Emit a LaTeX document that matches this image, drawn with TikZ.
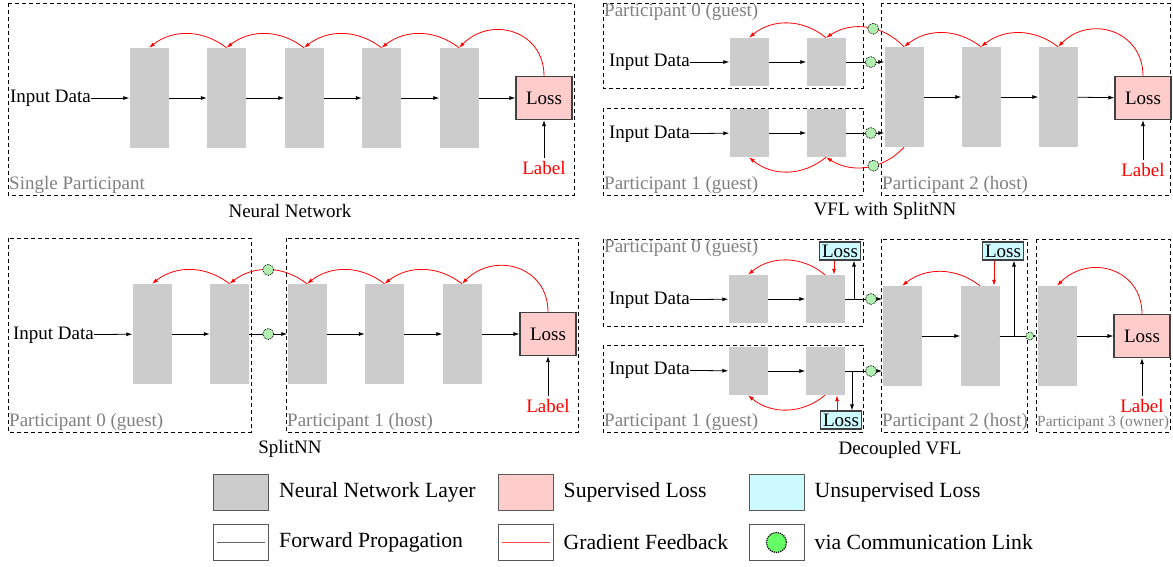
\documentclass[tikz,border=0pt]{standalone}
\usepackage{fontspec}
\setmainfont{Liberation Serif}
\usetikzlibrary{arrows.meta,positioning}
\definecolor{layergray}{RGB}{204,204,204}
\definecolor{suppink}{RGB}{255,204,204}
\definecolor{unsupcyan}{RGB}{204,250,255}
\definecolor{linkgreen}{RGB}{178,240,178}
\definecolor{keygreen}{RGB}{102,255,102}
\tikzset{
  nnlayer/.style={fill=layergray, minimum width=39pt, minimum height=100pt, inner sep=0pt},
  guestlayer/.style={nnlayer, minimum height=48pt},
  suploss/.style={draw=black!75, line width=1.1pt, fill=suppink, minimum width=56pt, minimum height=43pt, inner sep=0pt},
  unsuploss/.style={draw=black!75, line width=1.1pt, fill=unsupcyan, minimum width=41pt, minimum height=18pt, inner sep=0pt},
  party/.style={draw, line width=0.9pt, dash pattern=on 4pt off 3pt},
  partyname/.style={text=gray, anchor=west, inner sep=1pt},
  indata/.style={anchor=east, inner sep=0pt},
  fwd/.style={-{Latex[length=6pt,width=4pt]}, line width=0.8pt},
  grad/.style={-{Latex[length=6pt,width=4pt]}, red, line width=0.8pt},
  commlink/.style={circle, draw=black, densely dotted, line width=0.8pt, fill=linkgreen, minimum size=11pt, inner sep=0pt},
  smalllink/.style={commlink, minimum size=8pt},
  keybox/.style={draw=black!65, line width=1pt, minimum width=55pt, minimum height=36pt, inner sep=0pt},
  keytext/.style={right=10pt of #1, inner sep=0pt, font=\fontsize{21.7}{26}\selectfont},
}
\begin{document}
\begin{tikzpicture}[x=1pt,y=1pt,font=\fontsize{19}{22}\selectfont]
\useasboundingbox (0,0) rectangle (1173,-567);

% Un solo participante
\draw[party] (8,-3) rectangle (574,-195);
\node[partyname] (pa) at (8,-185) {Single Participant};
\node[indata] (ina) at (91,-98) {Input Data};
\foreach \i in {1,...,5}
  \node[nnlayer] (a\i) at ({149+77.5*(\i-1)},-98) {};
\node[suploss] (lossa) at (544,-98) {Loss};
\node[red] (laba) at (544,-168) {Label};
\draw[fwd] (ina) -- (a1);
\foreach \i/\j in {1/2,2/3,3/4,4/5}
  \draw[fwd] (a\i) -- (a\j);
\draw[fwd] (a5) -- (lossa);
\draw[fwd] (laba) -- (lossa);
\foreach \i/\j in {2/1,3/2,4/3,5/4}
  \draw[grad] (a\i.north) to[bend right=38] (a\j.north);
\draw[grad] (lossa.north) to[out=90,in=45,looseness=1.3] (a5.north);
\node (capa) at (290,-211) {Neural Network};

% VFL con SplitNN
\draw[party] (603,-3) rectangle (863,-88);
\draw[party] (603,-108) rectangle (863,-195);
\draw[party] (881,-3) rectangle (1170,-195);
\node[partyname] (pb0) at (603,-12) {Participant 0 (guest)};
\node[partyname] (pb1) at (603,-185) {Participant 1 (guest)};
\node[partyname] (pb2) at (881,-185) {Participant 2 (host)};
\node[indata] (inb0) at (690,-62) {Input Data};
\node[indata] (inb1) at (690,-134) {Input Data};
\node[guestlayer] (b01) at (749,-62) {};
\node[guestlayer] (b02) at (826,-62) {};
\node[guestlayer] (b11) at (749,-133) {};
\node[guestlayer] (b12) at (826,-133) {};
\foreach \i in {1,2,3}
  \node[nnlayer] (c\i) at ({904+77*(\i-1)},-97) {};
\node[suploss] (lossb) at (1143,-98) {Loss};
\node[red] (labb) at (1143,-170) {Label};
\draw[fwd] (inb0) -- (b01);
\draw[fwd] (b01) -- (b02);
\draw[fwd] (inb1) -- (b11);
\draw[fwd] (b11) -- (b12);
\draw[fwd] (c1) -- (c2);
\draw[fwd] (c2) -- (c3);
\draw[fwd] (c3) -- (lossb);
\draw[fwd] (labb) -- (lossb);
\draw[grad] (lossb.north) to[out=90,in=45,looseness=1.3] (c3.north);
\draw[grad] (c3.north) to[bend right=38] (c2.north);
\draw[grad] (c2.north) to[bend right=38] (c1.north);
\draw[grad] (b02.north) to[bend right=40] (b01.north);
\draw[grad] (b12.south) to[bend left=40] (b11.south);
\draw[grad] (c1.north) to[bend right=40] node[commlink, pos=0.42] (kb2) {} (b02.north);
\draw[grad] (c1.south) to[bend left=40] node[commlink, pos=0.42] (kb3) {} (b12.south);
\draw[fwd] (b02) -- node[commlink, pos=0.65] (kb0) {} (b02.east -| c1.west);
\draw[fwd] (b12) -- node[commlink, pos=0.65] (kb1) {} (b12.east -| c1.west);
\node (capb) at (885,-211) {VFL with SplitNN};

% SplitNN
\draw[party] (8,-238) rectangle (251,-432);
\draw[party] (286,-238) rectangle (578,-432);
\node[partyname] (pc0) at (8,-422) {Participant 0 (guest)};
\node[partyname] (pc1) at (286,-422) {Participant 1 (host)};
\node[indata] (inc) at (94,-335) {Input Data};
\foreach \i in {1,...,5}
  \node[nnlayer] (d\i) at ({152+77.5*(\i-1)},-334) {};
\node[suploss] (lossc) at (548,-334) {Loss};
\node[red] (labc) at (548,-406) {Label};
\draw[fwd] (inc) -- (d1);
\draw[fwd] (d1) -- (d2);
\draw[fwd] (d2) -- node[commlink] (kc0) {} (d3);
\foreach \i/\j in {3/4,4/5}
  \draw[fwd] (d\i) -- (d\j);
\draw[fwd] (d5) -- (lossc);
\draw[fwd] (labc) -- (lossc);
\draw[grad] (lossc.north) to[out=90,in=45,looseness=1.3] (d5.north);
\foreach \i/\j in {5/4,4/3,2/1}
  \draw[grad] (d\i.north) to[bend right=38] (d\j.north);
\draw[grad] (d3.north) to[bend right=38] node[commlink] (kc1) {} (d2.north);
\node (capc) at (290,-449) {SplitNN};

% VFL desacoplado
\draw[party] (603,-239) rectangle (863,-326);
\draw[party] (603,-345) rectangle (863,-432);
\draw[party] (881,-239) rectangle (1027,-432);
\draw[party] (1036,-239) rectangle (1170,-432);
\node[partyname] (pd0) at (603,-248) {Participant 0 (guest)};
\node[partyname] (pd1) at (603,-422) {Participant 1 (guest)};
\node[partyname] (pd2) at (881,-422) {Participant 2 (host)};
\node[partyname, font=\fontsize{15.5}{18}\selectfont] (pd3) at (1036,-423) {Participant 3 (owner)};
\node[indata] (ind0) at (690,-300) {Input Data};
\node[indata] (ind1) at (690,-370) {Input Data};
\node[guestlayer] (f01) at (748,-299) {};
\node[guestlayer] (f02) at (825,-299) {};
\node[guestlayer] (f11) at (748,-371) {};
\node[guestlayer] (f12) at (825,-371) {};
\node[nnlayer] (g1) at (902,-336) {};
\node[nnlayer] (g2) at (980,-336) {};
\node[nnlayer] (h1) at (1057,-336) {};
\node[suploss] (lossd) at (1142,-336) {Loss};
\node[red] (labd) at (1142,-406) {Label};
\node[unsuploss] (ul0) at (840,-251) {Loss};
\node[unsuploss] (ul1) at (841,-420) {Loss};
\node[unsuploss] (ul2) at (1003,-251) {Loss};
\draw[fwd] (ind0) -- (f01);
\draw[fwd] (f01) -- (f02);
\draw[fwd] (ind1) -- (f11);
\draw[fwd] (f11) -- (f12);
\draw[fwd] (f02) -- node[commlink, pos=0.7] (kd0) {} (f02.east -| g1.west);
\draw[fwd] (f12) -- node[commlink, pos=0.7] (kd1) {} (f12.east -| g1.west);
\draw[fwd] (g1) -- (g2);
\draw[fwd] (g2) -- node[smalllink, pos=0.8] (kd2) {} (h1);
\draw[fwd] (h1) -- (lossd);
\draw[fwd] (labd) -- (lossd);
\coordinate (j0) at ([xshift=14pt]ul0.south |- f02.east);
\coordinate (j1) at ([xshift=11pt]ul1.north |- f12.east);
\coordinate (j2) at ([xshift=11pt]ul2.south |- g2.east);
\draw[fwd] (j0) -- (j0 |- ul0.south);
\draw[fwd] (j1) -- (j1 |- ul1.north);
\draw[fwd] (j2) -- (j2 |- ul2.south);
\draw[grad] ([xshift=-6pt]ul0.south) -- ([xshift=-6pt]ul0.south |- f02.north);
\draw[grad] ([xshift=-4pt]ul1.north) -- ([xshift=-4pt]ul1.north |- f12.south);
\draw[grad] ([xshift=-9pt]ul2.south) -- ([xshift=-9pt]ul2.south |- g2.north);
\draw[grad] (f02.north) to[bend right=40] (f01.north);
\draw[grad] (f12.south) to[bend left=40] (f11.south);
\draw[grad] (g2.north) to[bend right=38] (g1.north);
\draw[grad] (lossd.north) to[out=90,in=45,looseness=1.3] (h1.north);
\node (capd) at (900,-450) {Decoupled VFL};

% Leyenda
\node[keybox, fill=layergray] (k1) at (241,-492) {};
\node[keytext=k1] (t1) {Neural Network Layer};
\node[keybox, fill=suppink] (k2) at (525.5,-492) {};
\node[keytext=k2] (t2) {Supervised Loss};
\node[keybox, fill=unsupcyan] (k3) at (776.5,-492) {};
\node[keytext=k3] (t3) {Unsupervised Loss};
\node[keybox] (k4) at (241,-542.5) {};
\node[keytext=k4] (t4) {Forward Propagation};
\draw[black!60, line width=1.2pt] ([xshift=4pt]k4.west) -- ([xshift=-4pt]k4.east);
\node[keybox] (k5) at (525.5,-542.5) {};
\node[keytext=k5] (t5) {Gradient Feedback};
\draw[red!70, line width=1.2pt] ([xshift=4pt]k5.west) -- ([xshift=-4pt]k5.east);
\node[keybox] (k6) at (776.5,-542.5) {};
\node[keytext=k6] (t6) {via Communication Link};
\node[commlink, fill=keygreen, minimum size=20pt, line width=1.2pt] (k7) at (k6) {};
\end{tikzpicture}
\end{document}
